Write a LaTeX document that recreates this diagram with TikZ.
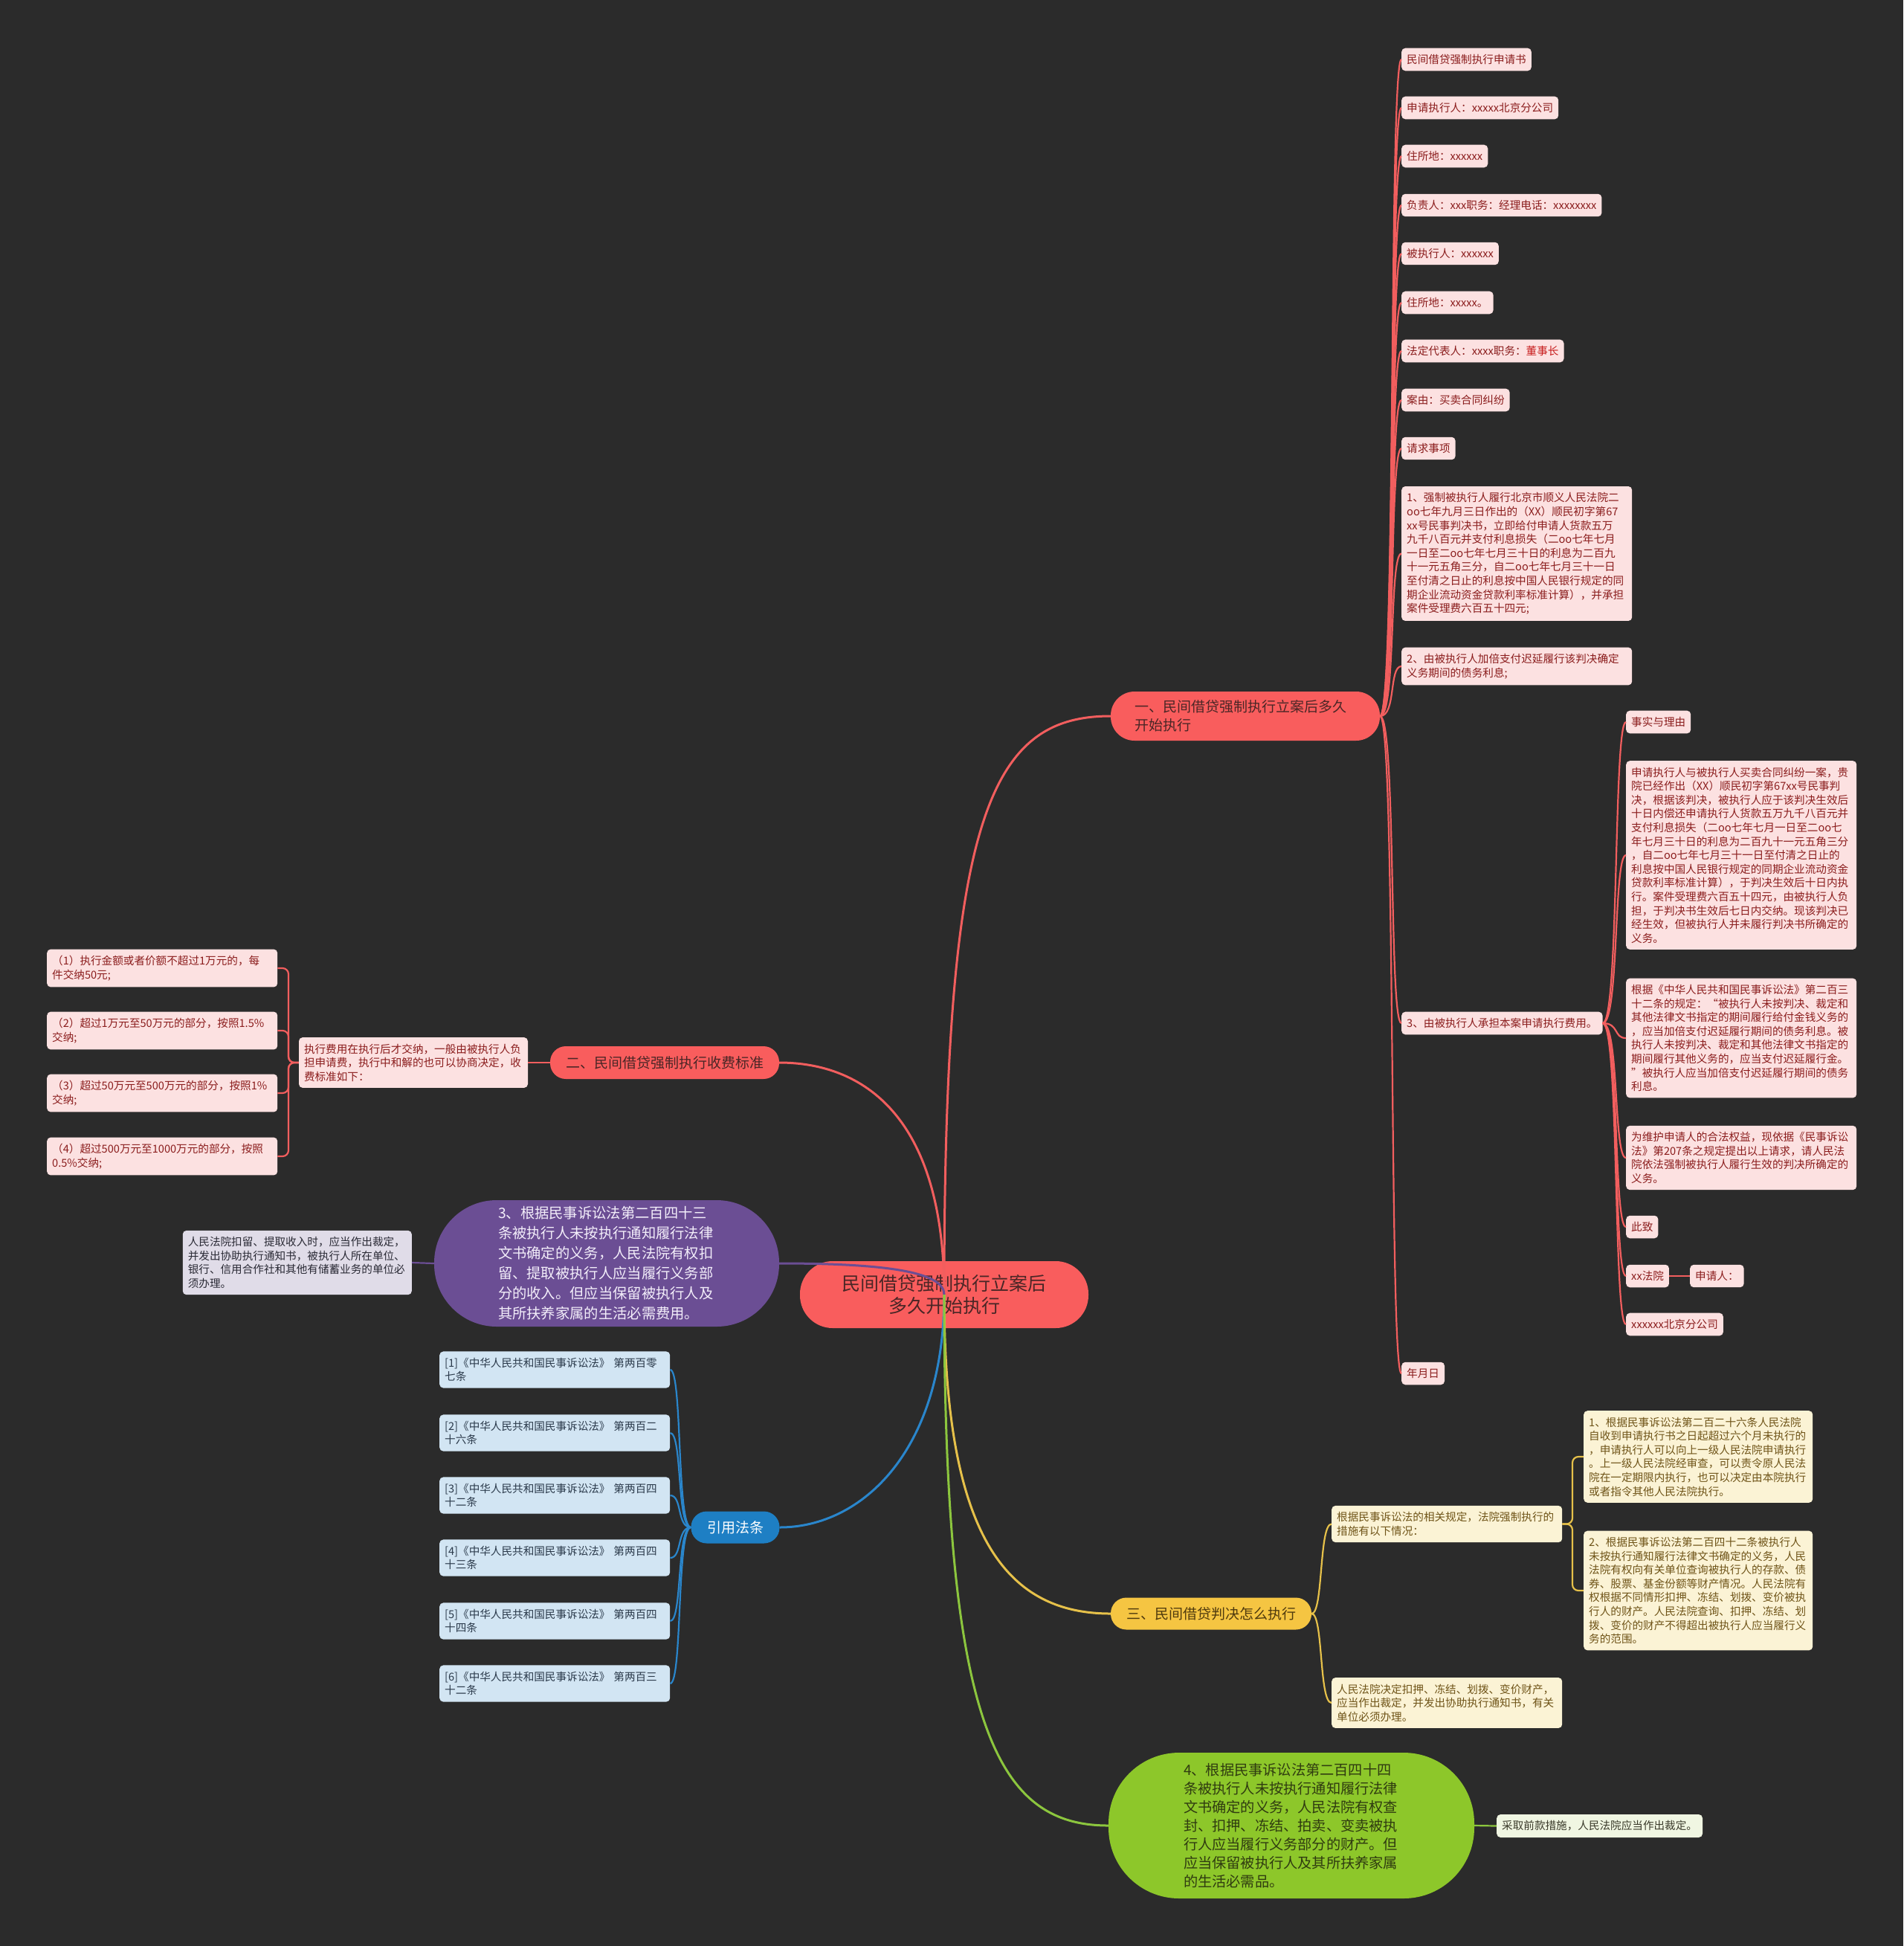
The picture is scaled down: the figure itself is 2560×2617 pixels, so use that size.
\documentclass[tikz,border=0pt]{standalone}
\usepackage{fontspec}
\setmainfont{Noto Sans CJK SC}
\newcommand\myfs[2]{\fontsize{#1}{#2}\selectfont}
\definecolor{bgc}{HTML}{2B2B2B}
\definecolor{rfill}{HTML}{F95D5D}
\definecolor{rtxt}{HTML}{4A2626}
\definecolor{rleaff}{HTML}{FCE1E1}
\definecolor{rleaft}{HTML}{8B1D1D}
\definecolor{rline}{HTML}{F25E5E}
\definecolor{yfill}{HTML}{F5C542}
\definecolor{ytxt}{HTML}{4F3A0E}
\definecolor{yleaff}{HTML}{FBF3D5}
\definecolor{yleaft}{HTML}{6F5418}
\definecolor{yline}{HTML}{E6C14A}
\definecolor{bfill}{HTML}{1E7FC4}
\definecolor{bleaff}{HTML}{D2E5F3}
\definecolor{bleaft}{HTML}{2B3A4B}
\definecolor{bline}{HTML}{2A86CC}
\definecolor{pfill}{HTML}{6B4E94}
\definecolor{ptxt}{HTML}{F3EEFA}
\definecolor{pleaff}{HTML}{E0DCE8}
\definecolor{pleaft}{HTML}{2A2A35}
\definecolor{gfill}{HTML}{8DC72A}
\definecolor{gtxt}{HTML}{2F3B10}
\definecolor{gleaff}{HTML}{F0F6E2}
\definecolor{gleaft}{HTML}{3A3A2A}
\definecolor{gline}{HTML}{8CC63E}
\definecolor{dongshi}{HTML}{C81E1E}
\tikzset{
  leaf/.style={rounded corners=5, inner xsep=7, inner ysep=8.5, font=\myfs{14.6}{18.6}, align=left, anchor=west},
  rleaf/.style={leaf, fill=rleaff, text=rleaft},
  yleaf/.style={leaf, fill=yleaff, text=yleaft},
  bleaf/.style={leaf, fill=bleaff, text=bleaft},
  pleaf/.style={leaf, fill=pleaff, text=pleaft},
  gleaf/.style={leaf, fill=gleaff, text=gleaft},
  branch/.style={font=\myfs{19}{25}, inner sep=0pt},
  maincon/.style={line width=3},
  subcon/.style={line width=2.2},
}
\begin{document}
\begin{tikzpicture}[x=1pt,y=-1pt]
\fill[bgc] (0,0) rectangle (2560,2617);
\useasboundingbox (0,0) rectangle (2560,2617);

% central
\node[fill=rfill, text=rtxt, rounded corners=44, minimum width=388, minimum height=90, align=center, font=\myfs{25}{30}, inner sep=0pt] (C) at (1270,1741) {民间借贷强制执行立案后\\多久开始执行};

% main branches
\node[branch, fill=rfill, text=rtxt, rounded corners=32, minimum width=362, minimum height=66, text width=298, align=left] (B1) at (1675,963) {一、民间借贷强制执行立案后多久\\开始执行};
\node[branch, fill=rfill, text=rtxt, rounded corners=21, minimum width=308, minimum height=44] (B2) at (894,1429) {二、民间借贷强制执行收费标准};
\node[branch, fill=pfill, text=ptxt, rounded corners=84, minimum width=464, minimum height=170, text width=292, align=left, font=\myfs{19.3}{27}] (P) at (816,1699) {3、根据民事诉讼法第二百四十三\\条被执行人未按执行通知履行法律\\文书确定的义务，人民法院有权扣\\留、提取被执行人应当履行义务部\\分的收入。但应当保留被执行人及\\其所扶养家属的生活必需费用。};
\node[branch, fill=bfill, text=white, rounded corners=21, minimum width=119, minimum height=43] (BL) at (989,2054) {引用法条};
\node[branch, fill=yfill, text=ytxt, rounded corners=21, minimum width=270, minimum height=43] (B3) at (1629,2170) {三、民间借贷判决怎么执行};
\node[branch, fill=gfill, text=gtxt, rounded corners=95, minimum width=492, minimum height=196, text width=290, align=left, font=\myfs{19.2}{25}] (GN) at (1737,2455) {4、根据民事诉讼法第二百四十四\\条被执行人未按执行通知履行法律\\文书确定的义务，人民法院有权查\\封、扣押、冻结、拍卖、变卖被执\\行人应当履行义务部分的财产。但\\应当保留被执行人及其所扶养家属\\的生活必需品。};

% main connectors
\draw[maincon, rline] (C.center) .. controls (1270,1100) and (1330,963) .. (B1.west);
\draw[maincon, rline] (C.center) .. controls (1270,1500) and (1160,1429) .. (B2.east);
\draw[maincon, pfill] (C.center) .. controls (1270,1712) and (1200,1699) .. (P.east);
\draw[maincon, bline] (C.center) .. controls (1270,1950) and (1160,2054) .. (BL.west -| BL.east);
\draw[maincon, yline] (C.center) .. controls (1270,2060) and (1350,2170) .. (B3.west);
\draw[maincon, gline] (C.center) .. controls (1270,2320) and (1340,2455) .. (GN.west);

% branch 1 leaves
\node[rleaf] (L1) at (1885,80) {民间借贷强制执行申请书};
\node[rleaf] (L2) at (1885,145) {申请执行人：xxxxx北京分公司};
\node[rleaf] (L3) at (1885,210) {住所地：xxxxxx};
\node[rleaf] (L4) at (1885,276) {负责人：xxx职务：经理电话：xxxxxxxx};
\node[rleaf] (L5) at (1885,341) {被执行人：xxxxxx};
\node[rleaf] (L6) at (1885,407) {住所地：xxxxx。};
\node[rleaf] (L7) at (1885,472) {法定代表人：xxxx职务：\textcolor{dongshi}{董事长}};
\node[rleaf] (L8) at (1885,538) {案由：买卖合同纠纷};
\node[rleaf] (L9) at (1885,603) {请求事项};
\node[rleaf, text width=296] (L10) at (1885,744.5) {1、强制被执行人履行北京市顺义人民法院二\\oo七年九月三日作出的（XX）顺民初字第67\\xx号民事判决书，立即给付申请人货款五万\\九千八百元并支付利息损失（二oo七年七月\\一日至二oo七年七月三十日的利息为二百九\\十一元五角三分，自二oo七年七月三十一日\\至付清之日止的利息按中国人民银行规定的同\\期企业流动资金贷款利率标准计算），并承担\\案件受理费六百五十四元;};
\node[rleaf, text width=296] (L11) at (1885,896) {2、由被执行人加倍支付迟延履行该判决确定\\义务期间的债务利息;};
\node[rleaf] (L12) at (1885,1376) {3、由被执行人承担本案申请执行费用。};
\node[rleaf] (L13) at (1885,1847) {年月日};

\foreach \n in {L1,L2,L3,L4,L5,L6,L7,L8,L9,L10,L11,L12,L13}
  \draw[subcon, rline] (B1.east) .. controls (1878,963) and (1868,0 |- \n.west) .. (\n.west);

% item 3 children
\node[rleaf] (K1) at (2187,971) {事实与理由};
\node[rleaf, text width=296] (K2) at (2187,1150) {申请执行人与被执行人买卖合同纠纷一案，贵\\院已经作出（XX）顺民初字第67xx号民事判\\决，根据该判决，被执行人应于该判决生效后\\十日内偿还申请执行人货款五万九千八百元并\\支付利息损失（二oo七年七月一日至二oo七\\年七月三十日的利息为二百九十一元五角三分\\，自二oo七年七月三十一日至付清之日止的\\利息按中国人民银行规定的同期企业流动资金\\贷款利率标准计算），于判决生效后十日内执\\行。案件受理费六百五十四元，由被执行人负\\担，于判决书生效后七日内交纳。现该判决已\\经生效，但被执行人并未履行判决书所确定的\\义务。};
\node[rleaf, text width=296] (K3) at (2187,1396) {根据《中华人民共和国民事诉讼法》第二百三\\十二条的规定：“被执行人未按判决、裁定和\\其他法律文书指定的期间履行给付金钱义务的\\，应当加倍支付迟延履行期间的债务利息。被\\执行人未按判决、裁定和其他法律文书指定的\\期间履行其他义务的，应当支付迟延履行金。\\”被执行人应当加倍支付迟延履行期间的债务\\利息。};
\node[rleaf, text width=296] (K4) at (2187,1557) {为维护申请人的合法权益，现依据《民事诉讼\\法》第207条之规定提出以上请求，请人民法\\院依法强制被执行人履行生效的判决所确定的\\义务。};
\node[rleaf] (K5) at (2187,1650) {此致};
\node[rleaf] (K6) at (2187,1716) {xx法院};
\node[rleaf] (K7) at (2273,1716) {申请人：};
\node[rleaf] (K8) at (2187,1781) {xxxxxx北京分公司};

\foreach \n in {K1,K2,K3,K4,K5,K6,K8}
  \draw[subcon, rline] (L12.east) .. controls (2178,1376) and (2170,0 |- \n.west) .. (\n.west);
\draw[subcon, rline] (K6.east) -- (K7.west);

% branch 2
\node[rleaf, anchor=center, text width=294] (M2) at (556,1429) {执行费用在执行后才交纳，一般由被执行人负\\担申请费，执行中和解的也可以协商决定，收\\费标准如下：};
\node[rleaf, text width=296] (F1) at (63,1302) {（1）执行金额或者价额不超过1万元的，每\\件交纳50元;};
\node[rleaf, text width=296] (F2) at (63,1386) {（2）超过1万元至50万元的部分，按照1.5\%\\交纳;};
\node[rleaf, text width=296] (F3) at (63,1470) {（3）超过50万元至500万元的部分，按照1\%\\交纳;};
\node[rleaf, text width=296] (F4) at (63,1555) {（4）超过500万元至1000万元的部分，按照\\0.5\%交纳;};
\draw[subcon, rline] (B2.west) -- (M2.east);
\foreach \n in {F1,F2,F3,F4}
  \draw[subcon, rline, rounded corners=8] (M2.west) -- (388,1429) |- (\n.east);

% purple leaf
\node[pleaf, anchor=east, text width=294] (G) at (554,1698) {人民法院扣留、提取收入时，应当作出裁定，\\并发出协助执行通知书，被执行人所在单位、\\银行、信用合作社和其他有储蓄业务的单位必\\须办理。};
\draw[subcon, pfill] (P.west) -- (G.east);

% references
\node[bleaf, text width=296] (R1) at (591,1842) {[1]《中华人民共和国民事诉讼法》~第两百零\\七条};
\node[bleaf, text width=296] (R2) at (591,1927) {[2]《中华人民共和国民事诉讼法》~第两百二\\十六条};
\node[bleaf, text width=296] (R3) at (591,2011) {[3]《中华人民共和国民事诉讼法》~第两百四\\十二条};
\node[bleaf, text width=296] (R4) at (591,2095) {[4]《中华人民共和国民事诉讼法》~第两百四\\十三条};
\node[bleaf, text width=296] (R5) at (591,2180) {[5]《中华人民共和国民事诉讼法》~第两百四\\十四条};
\node[bleaf, text width=296] (R6) at (591,2264) {[6]《中华人民共和国民事诉讼法》~第两百三\\十二条};
\foreach \n in {R1,R2,R3,R4,R5,R6}
  \draw[subcon, bline] (BL.west) .. controls (910,2054) and (918,0 |- \n.east) .. (\n.east);

% yellow branch
\node[yleaf, text width=296] (Y1) at (1791,2049.5) {根据民事诉讼法的相关规定，法院强制执行的\\措施有以下情况：};
\node[yleaf, text width=294] (Y1a) at (2130,1959) {1、根据民事诉讼法第二百二十六条人民法院\\自收到申请执行书之日起超过六个月未执行的\\，申请执行人可以向上一级人民法院申请执行\\。上一级人民法院经审查，可以责令原人民法\\院在一定期限内执行，也可以决定由本院执行\\或者指令其他人民法院执行。};
\node[yleaf, text width=294] (Y1b) at (2130,2139) {2、根据民事诉讼法第二百四十二条被执行人\\未按执行通知履行法律文书确定的义务，人民\\法院有权向有关单位查询被执行人的存款、债\\券、股票、基金份额等财产情况。人民法院有\\权根据不同情形扣押、冻结、划拨、变价被执\\行人的财产。人民法院查询、扣押、冻结、划\\拨、变价的财产不得超出被执行人应当履行义\\务的范围。};
\node[yleaf, text width=296] (Y2) at (1791,2290) {人民法院决定扣押、冻结、划拨、变价财产，\\应当作出裁定，并发出协助执行通知书，有关\\单位必须办理。};
\foreach \n in {Y1,Y2}
  \draw[subcon, yline] (B3.east) .. controls (1780,2170) and (1774,0 |- \n.west) .. (\n.west);
\foreach \n in {Y1a,Y1b}
  \draw[subcon, yline, rounded corners=8] (Y1.east) -- (2115,2049.5) |- (\n.west);

% green leaf
\node[gleaf] (G1) at (2013,2455.5) {采取前款措施，人民法院应当作出裁定。};
\draw[subcon, gline] (GN.east) -- (G1.west);
\end{tikzpicture}
\end{document}
